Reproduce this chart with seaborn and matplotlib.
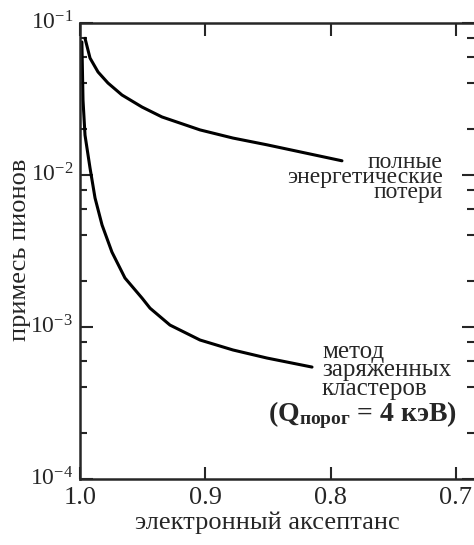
import matplotlib
matplotlib.use("Agg")
import matplotlib.pyplot as plt
import matplotlib.ticker as mticker
import matplotlib.transforms as mtransforms
import numpy as np
import pandas as pd
import seaborn as sns

# ---- data ----
x_total = [0.9960, 0.9920, 0.9856, 0.9777, 0.9665, 0.9505, 0.9346, 0.9042,
           0.8779, 0.8508, 0.8244, 0.7909]
y_total = [0.0793, 0.0588, 0.0476, 0.0403, 0.0336, 0.0280, 0.0241, 0.0198,
           0.0175, 0.0158, 0.0142, 0.0124]

x_cluster = [0.9985, 0.9976, 0.9960, 0.9920, 0.9880, 0.9824, 0.9745, 0.9641,
             0.9505, 0.9441, 0.9282, 0.9042, 0.8779, 0.8508, 0.8148]
y_cluster = [0.075, 0.0311, 0.0183, 0.01112, 0.00706, 0.00469, 0.00311, 0.00210,
             0.00155, 0.00133, 0.00103, 0.000821, 0.000706, 0.000625, 0.000545]

x_ticks = [1.0, 0.9, 0.8, 0.7]
x_ticklabels = ["1.0", "0.9", "0.8", "0.7"]
y_ticks = [1e-4, 1e-3, 1e-2, 1e-1]

label_total = "полные\nэнергетические\nпотери"
label_cluster = "метод\nзаряженных\nкластеров"
label_threshold = r"(Q$_{\mathbf{порог}}$ = 4 кэВ)"
xlabel = "электронный аксептанс"
ylabel = "примесь пионов"

df_total = pd.DataFrame({"x": x_total, "y": y_total})
df_cluster = pd.DataFrame({"x": x_cluster, "y": y_cluster})

sns.set_style("ticks")
plt.rcParams["font.family"] = ["Liberation Serif", "DejaVu Serif"]
plt.rcParams["mathtext.fontset"] = "custom"
plt.rcParams["mathtext.rm"] = "Liberation Serif"
plt.rcParams["mathtext.it"] = "Liberation Serif:italic"
plt.rcParams["mathtext.bf"] = "Liberation Serif:bold"

fig = plt.figure(figsize=(4.74, 5.45), dpi=100)
ax = fig.add_axes([80 / 474, 1 - 479 / 545, (474 - 80) / 474, (479 - 23) / 545])

sns.lineplot(data=df_total, x="x", y="y", ax=ax, color="black", linewidth=2.2,
             estimator=None, sort=False)
sns.lineplot(data=df_cluster, x="x", y="y", ax=ax, color="black", linewidth=2.2,
             estimator=None, sort=False)

ax.set_yscale("log")
ax.set_xlim(1.0, 0.6855)
ax.set_ylim(1e-4, 1e-1)
ax.set_xticks(x_ticks)
ax.set_xticklabels(x_ticklabels)
ax.set_yticks(y_ticks)
ax.yaxis.set_minor_locator(mticker.LogLocator(base=10, subs=[2, 4, 6, 8]))
ax.yaxis.set_minor_formatter(mticker.NullFormatter())

for s in ["left", "bottom", "top"]:
    ax.spines[s].set_linewidth(1.8)
ax.spines["right"].set_visible(False)

ax.tick_params(axis="both", which="major", direction="in", length=9, width=1.5,
               top=True, right=True, pad=5)
ax.tick_params(axis="x", which="major", labelsize=19, pad=6)
ax.tick_params(axis="y", which="major", labelsize=17, pad=5)
ax.tick_params(axis="y", which="minor", direction="in", length=5, width=1.5,
               right=True)

# nudge the y tick labels slightly upward, as in the reference
shift_up = mtransforms.ScaledTranslation(0, 2 / 72, fig.dpi_scale_trans)
for lab in ax.get_yticklabels():
    lab.set_transform(lab.get_transform() + shift_up)

ax.set_xlabel(xlabel, fontsize=19)
ax.xaxis.set_label_coords(0.4746, -0.072)
ax.set_ylabel(ylabel, fontsize=19)
ax.yaxis.set_label_coords(-0.125, 0.502)

ax.text(0.7103, 0.0096, label_total, ha="right", va="center", fontsize=17,
        linespacing=0.64, multialignment="right")
ax.text(0.8069, 0.00052, label_cluster, ha="left", va="center", fontsize=18,
        linespacing=0.8)
ax.text(0.850, 0.000265, label_threshold, ha="left", va="center", fontsize=20,
        fontweight="bold")

fig.savefig("out.png", dpi=100)
